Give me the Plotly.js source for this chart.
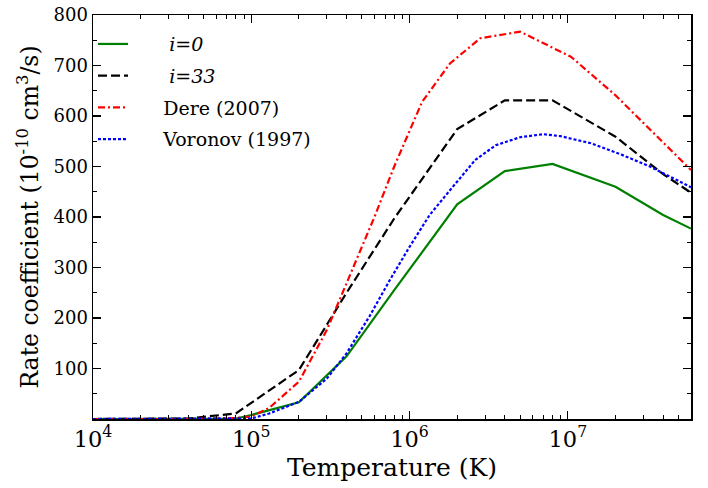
<!DOCTYPE html>
<html><head><meta charset="utf-8">
<script src="https://cdn.plot.ly/plotly-3.0.1.min.js"></script>
<style>body{margin:0;background:#fff}#c{width:708px;height:488px}</style>
</head><body><div id="c"></div>
<script>
// Temperatures (K) and rate coefficients (1e-10 cm^3/s)
const T_i0 = [1e4, 4e4, 8e4, 1e5, 2e5, 4e5, 8e5, 2e6, 4e6, 8e6, 2e7, 4e7, 6e7];
const R_i0 = [0, 0, 1, 8, 33, 124, 255, 425, 491, 505, 460, 404, 377];

const T_i33 = [1e4, 4e4, 8e4, 2e5, 4e5, 8e5, 2e6, 4e6, 8e6, 2e7, 4e7, 6e7];
const R_i33 = [0, 1, 11, 97, 250, 397, 574, 631, 631, 559, 485, 448];

const T_dere = [1e4, 4e4, 8e4, 1e5, 1.3e5, 2e5, 3e5, 4e5, 6e5, 8e5, 1.2e6, 1.8e6, 2.8e6, 5e6, 1.05e7, 2e7, 6e7];
const R_dere = [0, 0, 2, 5, 22, 74, 176, 268, 400, 500, 628, 704, 754, 767, 717, 641, 493];

const T_vor = [1e4, 5e4, 8e4, 1e5, 1.3e5, 2e5, 3e5, 4e5, 5.6e5, 7.5e5, 1e6, 1.34e6, 1.8e6, 2.6e6, 3.5e6, 5e6, 7e6, 9e6, 1.4e7, 2.2e7, 3.3e7, 6e7];
const R_vor = [0, 0, 0, 1, 11, 34, 80, 130, 204, 275, 341, 404, 453, 513, 542, 558, 564, 560, 546, 523, 500, 459];

const names = ['<i>&nbsp;&nbsp;&nbsp;&nbsp;&nbsp;&nbsp;i=0</i>', '<i>&nbsp;&nbsp;&nbsp;&nbsp;&nbsp;&nbsp;i=33</i>', '&nbsp;&nbsp;&nbsp;&nbsp;&nbsp;Dere (2007)', '&nbsp;&nbsp;&nbsp;&nbsp;&nbsp;Voronov (1997)'];
const yTicks = [100, 200, 300, 400, 500, 600, 700, 800];

const FONT = 'DejaVu Serif, Roboto, serif';
const traces = [
  {x: T_i0, y: R_i0, name: names[0], legendgroup: 'a', mode: 'lines', line: {color: '#008000', width: 2.2}},
  {x: T_i33, y: R_i33, name: names[1], legendgroup: 'b', mode: 'lines', line: {color: '#000000', width: 2.2, dash: '9px,4px'}},
  {x: T_dere, y: R_dere, name: names[2], legendgroup: 'c', mode: 'lines', line: {color: '#ff0000', width: 2.2, dash: '7px,3px,2px,3px'}},
  {x: T_vor, y: R_vor, name: names[3], legendgroup: 'd', mode: 'lines', line: {color: '#0000ff', width: 2.2, dash: '3px,2px'}}
];
const layout = {
  width: 708, height: 488,
  margin: {l: 93, r: 17, t: 15, b: 69},
  paper_bgcolor: '#fff', plot_bgcolor: '#fff',
  font: {family: FONT, color: '#000', size: 18},
  showlegend: true,
  legend: {x: 0.0, y: 0.975, xanchor: 'left', yanchor: 'top', bgcolor: 'rgba(0,0,0,0)',
           font: {family: FONT, size: 19}, itemwidth: 30, tracegroupgap: 4},
  xaxis: {
    type: 'log', range: [4, Math.log10(6e7)],
    dtick: 1, exponentformat: 'power', showexponent: 'all',
    ticks: 'inside', ticklen: 8, tickwidth: 1.2, tickcolor: '#000',
    minor: {ticks: 'inside', ticklen: 4, tickwidth: 1, tickcolor: '#000', dtick: 'D1', showgrid: false},
    showline: true, linecolor: '#000', linewidth: 1.5, mirror: 'allticks',
    showgrid: false, zeroline: false,
    tickfont: {family: FONT, size: 18},
    title: {text: 'Temperature (K)', font: {family: FONT, size: 25}, standoff: 8}
  },
  yaxis: {
    range: [0, 800], tickvals: yTicks,
    ticks: 'inside', ticklen: 8, tickwidth: 1.2, tickcolor: '#000',
    minor: {ticks: 'inside', ticklen: 4, tickwidth: 1, tickcolor: '#000', tick0: 0, dtick: 50, showgrid: false},
    showline: true, linecolor: '#000', linewidth: 1.5, mirror: 'allticks',
    showgrid: false, zeroline: false,
    tickfont: {family: FONT, size: 18},
    title: {text: 'Rate coefficient (10<sup>-10</sup> cm<sup>3</sup>/s)', font: {family: FONT, size: 23.5}, standoff: 8}
  }
};
Plotly.newPlot('c', traces, layout, {staticPlot: true, displayModeBar: false});
</script></body></html>
